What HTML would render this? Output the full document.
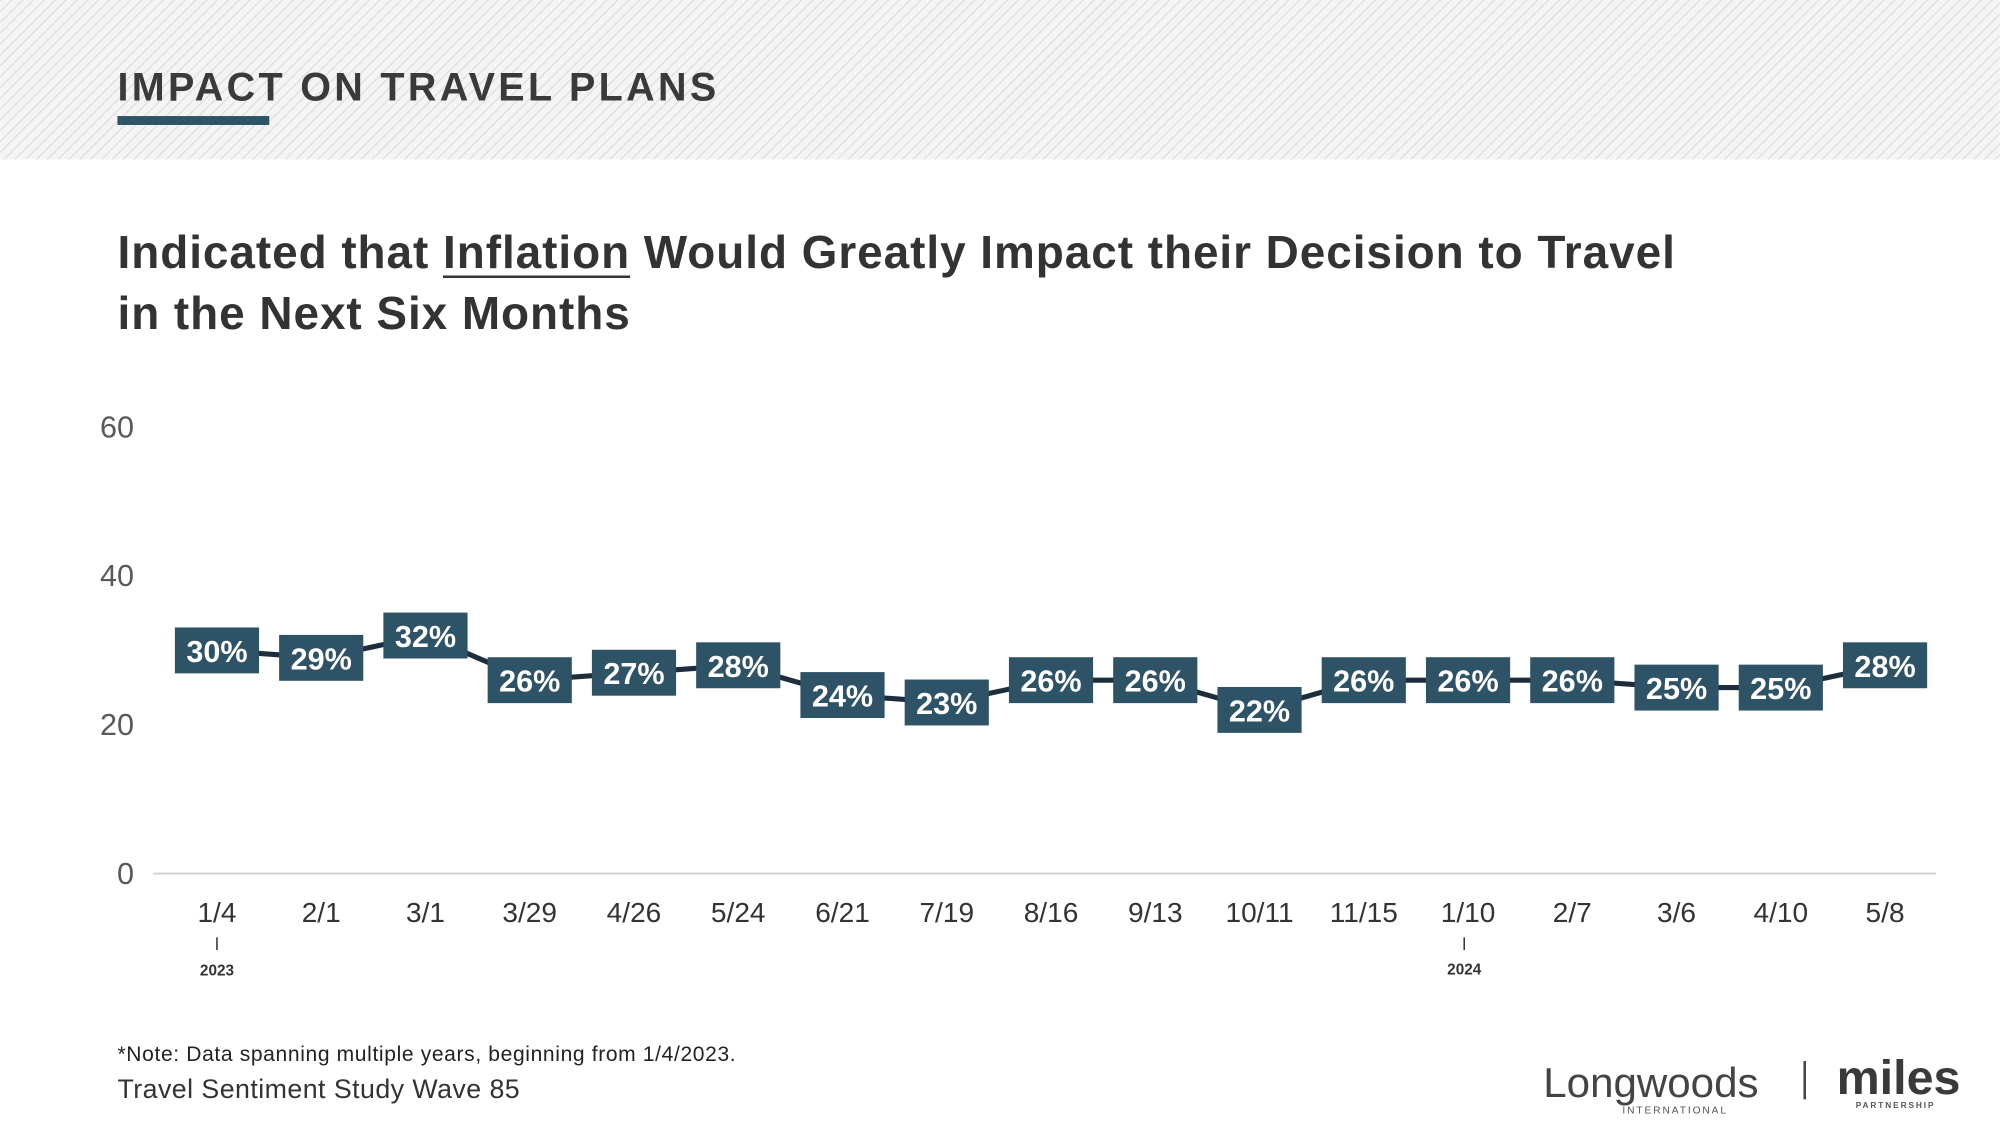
<!DOCTYPE html>
<html><head><meta charset="utf-8"><style>
html,body{margin:0;padding:0;background:#fff;}
svg{display:block;font-family:"Liberation Sans",sans-serif;}
</style></head><body>
<svg id="chart" width="2000" height="1121" viewBox="0 0 1568 879" xmlns="http://www.w3.org/2000/svg">
<defs>
<pattern id="hatch" width="6" height="6" patternUnits="userSpaceOnUse" patternTransform="rotate(45)">
<rect width="6" height="6" fill="#f4f4f4"/><line x1="0" y1="0" x2="0" y2="6" stroke="#dedede" stroke-width="2"/>
</pattern>
</defs>
<rect x="0" y="0" width="1568" height="125" fill="url(#hatch)"/>
<text x="92" y="79" font-size="31" font-weight="bold" letter-spacing="2.6" fill="#3a3a3a">IMPACT ON TRAVEL PLANS</text>
<rect x="92" y="91" width="119" height="7" fill="#2e5266"/>
<text id="t1" font-size="36" font-weight="bold" fill="#333" letter-spacing="0.75">
<tspan x="92" y="210">Indicated that Inflation Would Greatly Impact their Decision to Travel</tspan>
<tspan x="92" y="258">in the Next Six Months</tspan></text>
<line id="ul" x1="346" y1="217" x2="493" y2="217" stroke="#333" stroke-width="2"/>
<g id="yaxis"></g>
<g id="xaxis"></g>
<g id="series"></g>
<text x="170" y="765" font-size="12" font-weight="bold" text-anchor="middle" fill="#333">2023</text>
<line x1="170" y1="735" x2="170" y2="745" stroke="#333" stroke-width="1.2"/>
<text x="1148" y="764" font-size="12" font-weight="bold" text-anchor="middle" fill="#333">2024</text>
<line x1="1148" y1="735" x2="1148" y2="745" stroke="#333" stroke-width="1.2"/>
<text x="92" y="832" font-size="16.5" letter-spacing="0.5" fill="#222">*Note: Data spanning multiple years, beginning from 1/4/2023.</text>
<text x="92" y="861" font-size="21" letter-spacing="0.35" fill="#333">Travel Sentiment Study Wave 85</text>
<g>
<text x="1210" y="860" font-size="33" fill="#444">Longwoods</text>
<text x="1272" y="873" font-size="8" letter-spacing="1.5" fill="#555">INTERNATIONAL</text>
</g>
<line x1="1415" y1="832" x2="1415" y2="862" stroke="#444" stroke-width="2"/>
<g>
<text x="1440" y="858" font-size="38" font-weight="bold" fill="#3a3a3a">miles</text>
<text x="1455" y="869" font-size="6.5" font-weight="bold" letter-spacing="1.5" fill="#555">PARTNERSHIP</text>
</g>
</svg>
<script>
const categories = ["1/4","2/1","3/1","3/29","4/26","5/24","6/21","7/19","8/16","9/13","10/11","11/15","1/10","2/7","3/6","4/10","5/8"];
const values = [30,29,32,26,27,28,24,23,26,26,22,26,26,26,25,25,28];
const yTicks = [0,20,40,60];
const NS = "http://www.w3.org/2000/svg";
const x0 = 170, dx = 81.75;
function xs(i){return x0 + i*dx;}
function ys(v){return 685 - v*(350/60);}
function mk(tag, attrs, parent, txt){
  const e = document.createElementNS(NS, tag);
  for (const k in attrs) e.setAttribute(k, attrs[k]);
  if (txt !== undefined) e.textContent = txt;
  parent.appendChild(e); return e;
}
try {
  const ts = document.querySelector('#t1 tspan');
  const s = ts.getStartPositionOfChar(15).x;
  const e = ts.getEndPositionOfChar(23).x;
  const ul = document.getElementById('ul');
  ul.setAttribute('x1', s); ul.setAttribute('x2', e);
} catch(err) {}
const ya = document.getElementById('yaxis');
yTicks.forEach(t=>{
  const el = mk('text',{x:105,y:ys(t)+8,'font-size':24,'text-anchor':'end',fill:'#595959'},ya,String(t));
  
  
});
const xa = document.getElementById('xaxis');
const base = mk('line',{x1:120,y1:ys(0),x2:1518,y2:ys(0),stroke:'#d0d0d0','stroke-width':1.5},xa);


categories.forEach((c,i)=>{
  const el = mk('text',{x:xs(i),y:723,'font-size':22,'text-anchor':'middle',fill:'#333'},xa,c);
  
  
});
const sg = document.getElementById('series');
const line = mk('polyline',{points:values.map((v,i)=>xs(i)+','+ys(v)).join(' '),fill:'none',stroke:'#1e2d3b','stroke-width':4,'stroke-linejoin':'round'},sg);


values.forEach((v,i)=>{
  const g = mk('g',{},sg);
  
  
  mk('rect',{x:xs(i)-33,y:ys(v)-18,width:66,height:36,fill:'#2e5266'},g);
  mk('text',{x:xs(i),y:ys(v)+9,'font-size':24,'font-weight':'bold','text-anchor':'middle',fill:'#fff'},g,v+'%');
});
</script>
</body></html>
